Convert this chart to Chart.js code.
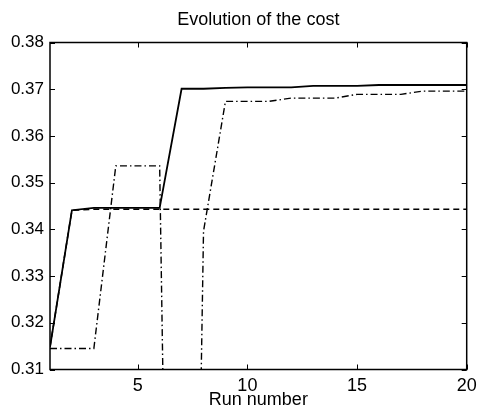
<!DOCTYPE html>
<html>
<head>
<meta charset="utf-8">
<script src="https://cdn.jsdelivr.net/npm/chart.js@4/dist/chart.umd.min.js"></script>
<style>
  html, body { margin: 0; padding: 0; background: #fff; }
  #wrap { width: 478px; height: 409px; }
</style>
</head>
<body>
<div id="wrap"><canvas id="CostChart"></canvas></div>
<script>
const runs = [1, 2, 3, 4, 5, 6, 7, 8, 9, 10, 11, 12, 13, 14, 15, 16, 17, 18, 19, 20];
const costSolid = [0.3148, 0.3441, 0.3446, 0.3446, 0.3446, 0.3446, 0.3701, 0.3701, 0.3703, 0.3704,
                   0.3704, 0.3704, 0.3707, 0.3707, 0.3707, 0.3709, 0.3709, 0.3709, 0.3709, 0.3709];
const costDashed = [0.3148, 0.3441, 0.3443, 0.3443, 0.3443, 0.3443, 0.3443, 0.3443, 0.3443, 0.3443,
                    0.3443, 0.3443, 0.3443, 0.3443, 0.3443, 0.3443, 0.3443, 0.3443, 0.3443, 0.3443];
const costDashDot = [0.3145, 0.3145, 0.3145, 0.3536, 0.3536, 0.3536, 0.05, 0.3396, 0.3674, 0.3674,
                     0.3674, 0.3681, 0.3681, 0.3681, 0.3689, 0.3689, 0.3689, 0.3696, 0.3696, 0.3696];
const xTicks = [5, 10, 15, 20];
const yTicks = [0.31, 0.32, 0.33, 0.34, 0.35, 0.36, 0.37, 0.38];

const FONT = "'Liberation Sans', Arial, sans-serif";

function toPoints(values) {
    return runs.map((r, i) => ({ x: r, y: values[i] }));
}

// matlab style box with inward ticks on all four sides
const boxPlugin = {
    id: 'box',
    afterDatasetsDraw(chart) {
        const { ctx, chartArea: a, scales: { x, y } } = chart;
        const len = 5;
        ctx.save();
        ctx.strokeStyle = '#000';
        ctx.lineWidth = 1;
        ctx.beginPath();
        xTicks.forEach(v => {
            const px = Math.round(x.getPixelForValue(v)) + 0.5;
            ctx.moveTo(px, a.bottom); ctx.lineTo(px, a.bottom - len);
            ctx.moveTo(px, a.top); ctx.lineTo(px, a.top + len);
        });
        yTicks.forEach(v => {
            const py = Math.round(y.getPixelForValue(v)) + 0.5;
            ctx.moveTo(a.left, py); ctx.lineTo(a.left + len, py);
            ctx.moveTo(a.right, py); ctx.lineTo(a.right - len, py);
        });
        ctx.stroke();
        ctx.lineWidth = 1.5;
        ctx.strokeRect(a.left, a.top, a.right - a.left, a.bottom - a.top);
        ctx.restore();
    }
};

new Chart(document.getElementById('CostChart'), {
    type: 'line',
    data: {
        datasets: [
            {
                label: 'dashed',
                data: toPoints(costDashed),
                borderColor: '#000',
                borderWidth: 1.5,
                borderDash: [6, 4],
                pointRadius: 0,
                tension: 0
            },
            {
                label: 'dash-dot',
                data: toPoints(costDashDot),
                borderColor: '#000',
                borderWidth: 1.4,
                borderDash: [7, 3, 1.5, 3],
                pointRadius: 0,
                tension: 0
            },
            {
                label: 'solid',
                data: toPoints(costSolid),
                borderColor: '#000',
                borderWidth: 1.8,
                pointRadius: 0,
                tension: 0
            }
        ]
    },
    options: {
        responsive: true,
        maintainAspectRatio: false,
        animation: false,
        layout: { padding: { left: 0, right: 11.3, top: 0, bottom: 0 } },
        plugins: {
            legend: { display: false },
            tooltip: { enabled: false },
            title: {
                display: true,
                fullSize: false,
                text: 'Evolution of the cost',
                color: '#000',
                font: { family: FONT, size: 18, weight: 'normal' },
                padding: { top: 9, bottom: 11.9 }
            }
        },
        scales: {
            x: {
                type: 'linear',
                min: 1,
                max: 20,
                afterBuildTicks: s => { s.ticks = xTicks.map(v => ({ value: v })); },
                afterFit: s => { s.height = 39.5; s.paddingLeft = 0; s.paddingRight = 0; },
                grid: { display: false, drawTicks: false },
                border: { display: false },
                ticks: {
                    color: '#000',
                    padding: 6,
                    maxRotation: 0,
                    font: { family: FONT, size: 18 }
                },
                title: {
                    display: true,
                    text: 'Run number',
                    color: '#000',
                    font: { family: FONT, size: 18 },
                    padding: { top: 0, bottom: -2 }
                }
            },
            y: {
                min: 0.31,
                max: 0.38,
                afterBuildTicks: s => { s.ticks = yTicks.map(v => ({ value: v })); },
                afterFit: s => { s.width = 50; s.paddingTop = 0; s.paddingBottom = 0; },
                grid: { display: false, drawTicks: false },
                border: { display: false },
                ticks: {
                    color: '#000',
                    padding: 6,
                    font: { family: FONT, size: 17 },
                    callback: v => v.toFixed(2)
                }
            }
        }
    },
    plugins: [boxPlugin]
});
</script>
</body>
</html>
